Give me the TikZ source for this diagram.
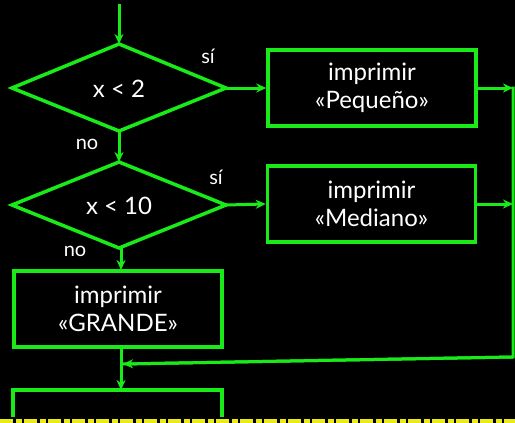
\documentclass[tikz,border=0pt]{standalone}
\usepackage{fontspec}
\setmainfont{Lato}
\usetikzlibrary{arrows.meta}
\definecolor{fgreen}{RGB}{25,235,25}
\definecolor{ylw}{RGB}{235,235,20}
\tikzset{
  box/.style={draw=fgreen,line width=3.5pt,fill=black,minimum width=208pt,minimum height=76pt,align=center,text=white,font=\fontsize{24}{28}\selectfont,inner sep=0pt},
  dia/.style={draw=fgreen,line width=3.5pt,fill=black,text=white,font=\fontsize{24}{28}\selectfont},
  conn/.style={draw=fgreen,line width=3pt,-{Stealth[length=10pt,width=9pt]}},
  plain/.style={draw=fgreen,line width=3pt},
  lbl/.style={text=white,font=\fontsize{20}{22}\selectfont,inner sep=0pt}
}
\begin{document}
\begin{tikzpicture}[x=1pt,y=-1pt]
\fill[black] (0,0) rectangle (515,423);
\useasboundingbox (0,0) rectangle (515,423);
% diamond 1
\draw[dia] (119,44) coordinate (d1t) -- (226,88) coordinate (d1r) -- (119,131) coordinate (d1b) -- (12,88) -- cycle;
\node[dia,draw=none,fill=none] (d1) at (119,89) {x < 2};
% diamond 2
\draw[dia] (119,162) coordinate (d2t) -- (226,205) coordinate (d2r) -- (119,248) coordinate (d2b) -- (12,205) -- cycle;
\node[dia,draw=none,fill=none] (d2) at (119,206) {x < 10};
% boxes
\node[box] (b1) at (372,88) {imprimir\\«Pequeño»};
\node[box] (b2) at (371.5,204) {imprimir\\«Mediano»};
\node[box] (b3) at (118,309) {imprimir\\«GRANDE»};
% start
\coordinate (start) at (119,4);
\draw[conn] (start) -- (d1t);
\draw[conn] (d1r) -- (b1.west);
\draw[conn] (d1b) -- (d2t);
\draw[conn] (d2r) -- (b2.west);
\coordinate (b3t) at (121,270);
\draw[conn] (121,248) -- (b3t);
% right bus
\coordinate (r1) at (513,88);
\coordinate (r2) at (513,204);
\coordinate (rb) at (513,357);
\coordinate (m) at (123,364);
\draw[conn] (b1.east) -- (r1);
\draw[conn] (b2.east) -- (r2);
\draw[plain] (513,86.5) -- (rb) -- (m);
\draw[conn] (rb) -- (m);
% bottom box (cut off)
\coordinate (b4t) at (121,390);
\draw[conn] (b3.south -| b4t) -- (b4t);
\begin{scope}
\clip (0,0) rectangle (515,416);
\draw[draw=fgreen,line width=3.5pt] (13,430) -- (13,390) -- (222,390) -- (222,430);
\end{scope}
% labels
\node[lbl] (s1) at (208,56) {sí};
\node[lbl] (n1) at (87,144) {no};
\node[lbl] (s2) at (216,177) {sí};
\node[lbl] (n2) at (75,251) {no};
% yellow strip
\draw[ylw,line width=4pt,dash pattern=on 13pt off 3pt on 6pt off 2pt] (0,421) -- (515,421);
\end{tikzpicture}
\end{document}
